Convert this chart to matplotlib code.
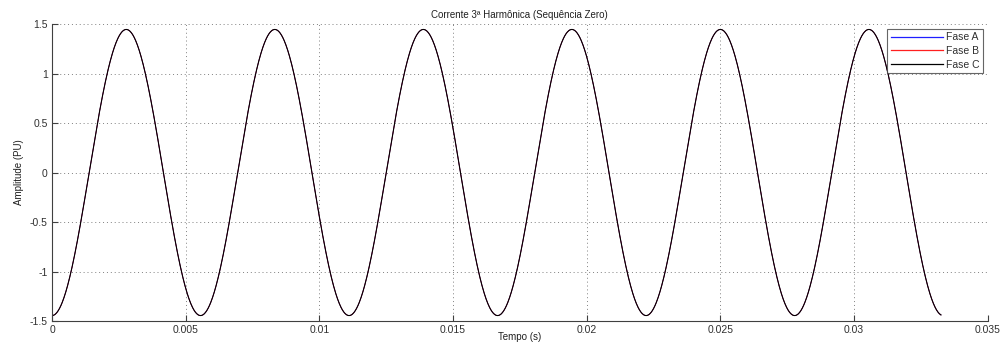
import numpy as np
import matplotlib.pyplot as plt

plt.rcParams['font.family'] = ['Liberation Sans', 'DejaVu Sans']
plt.rcParams['font.size'] = 7

# 3rd harmonic (zero sequence) current: same waveform on all three phases
fundamental_hz = 60.0
harmonic_order = 3
amplitude_pu = 1.445
t_end = 0.03325
n_samples = 2000

phase_names = ['Fase A', 'Fase B', 'Fase C']
phase_colors = ['#1f1fff', '#ff1f1f', '#000000']
phase_shift_deg = [0.0, -120.0, 120.0]   # fundamental shift
line_widths = [0.5, 0.5, 0.8]

x_ticks = [0, 0.005, 0.01, 0.015, 0.02, 0.025, 0.03, 0.035]
x_tick_labels = ['0', '0.005', '0.01', '0.015', '0.02', '0.025', '0.03', '0.035']
y_ticks = [-1.5, -1, -0.5, 0, 0.5, 1, 1.5]
y_tick_labels = ['-1.5', '-1', '-0.5', '0', '0.5', '1', '1.5']

t = np.linspace(0, t_end, n_samples)

fig = plt.figure(figsize=(10.04, 3.42), dpi=100)
ax = fig.add_axes([0.0518, 0.0614, 0.932, 0.8684])

for name, color, shift, lw in zip(phase_names, phase_colors, phase_shift_deg, line_widths):
    # harmonic shift = order * fundamental shift, multiples of 360 for 3rd order
    h_shift = np.radians((harmonic_order * shift) % 360.0)
    ang = harmonic_order * 2 * np.pi * fundamental_hz * t + h_shift
    ax.plot(t, -amplitude_pu * np.cos(ang), color=color, linewidth=lw, label=name)

ax.set_xlim(0, 0.035)
ax.set_ylim(-1.5, 1.5)
ax.set_xticks(x_ticks)
ax.set_xticklabels(x_tick_labels)
ax.set_yticks(y_ticks)
ax.set_yticklabels(y_tick_labels)

ax.grid(True, linestyle=(0, (1, 3)), color='#808080', linewidth=0.7)
for side in ['top', 'right']:
    ax.spines[side].set_visible(False)
for side in ['left', 'bottom']:
    ax.spines[side].set_color('#404040')
    ax.spines[side].set_linewidth(0.8)
ax.tick_params(direction='in', length=4, width=0.8, color='#404040',
               labelcolor='#303030', labelsize=7.5, pad=3)

ax.set_title('Corrente 3ª Harmônica (Sequência Zero)', fontsize=7, color='#202020', pad=4)
ax.set_xlabel('Tempo (s)', fontsize=7, color='#202020', labelpad=-2)
ax.set_ylabel('Amplitude (PU)', fontsize=7, color='#202020', labelpad=4)

leg = ax.legend(loc='upper right', fontsize=7.5, frameon=True, fancybox=False,
                edgecolor='#404040', handlelength=5.0, handletextpad=0.3,
                borderpad=0.35, labelspacing=0.35, borderaxespad=0.45)
leg.get_frame().set_linewidth(0.8)
for handle in leg.get_lines():
    handle.set_linewidth(0.9)
for txt in leg.get_texts():
    txt.set_color('#303030')

fig.savefig('out.png', dpi=100)
